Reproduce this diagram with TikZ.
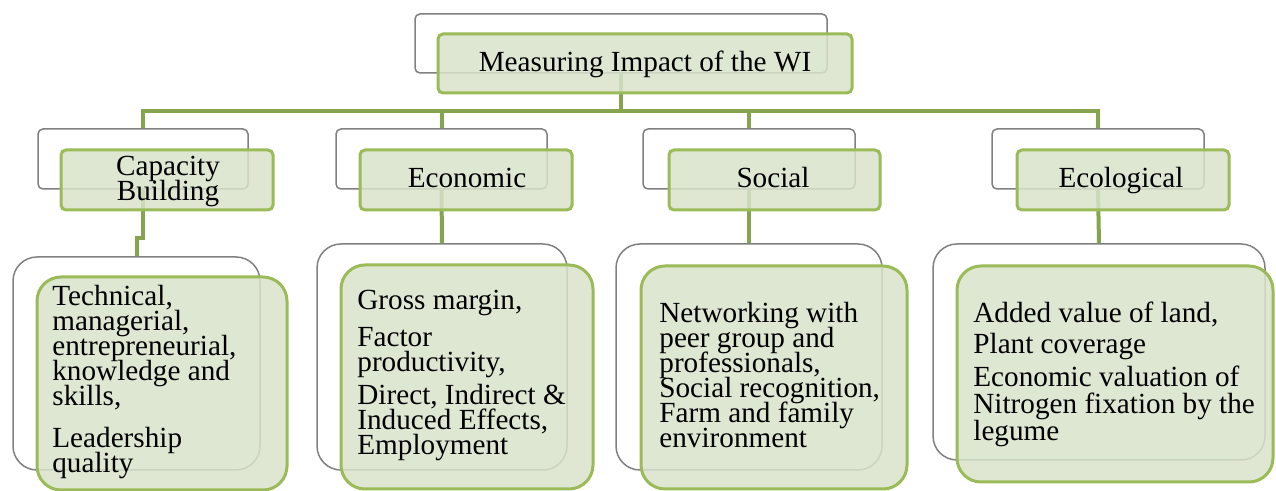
\documentclass[tikz,border=0pt]{standalone}
\usepackage{fontspec}
\setmainfont{Liberation Serif}
\usetikzlibrary{fit}
\definecolor{gborder}{RGB}{155,187,89}
\definecolor{gfill}{RGB}{217,227,203}
\definecolor{conncol}{RGB}{134,163,77}
\definecolor{wborder}{RGB}{128,128,128}
\tikzset{
  wbox/.style={draw=wborder, line width=0.75pt, fill=white, rounded corners=2.5pt, inner sep=0pt},
  wboxbig/.style={wbox, rounded corners=12pt},
  gbox/.style={draw=gborder, line width=1.5pt, fill=gfill, fill opacity=0.85,
    rounded corners=2.5pt, inner sep=0pt},
  gboxbig/.style={gbox, rounded corners=12pt},
  conn/.style={draw=conncol, line width=2pt},
  ctext/.style={anchor=center, inner sep=0pt, align=center,
    font={\fontsize{14.6}{12.5}\selectfont\lineskiplimit=-20pt\relax}},
  dtext/.style={anchor=north west, inner sep=0pt, align=left,
    font={\fontsize{14.6}{12.5}\selectfont\lineskiplimit=-20pt\relax}},
}
\begin{document}
\begin{tikzpicture}[x=0.5pt,y=-0.5pt]
\useasboundingbox (0,0) rectangle (1276,491);

% back (white) boxes
\node[wbox, fit={(415,14) (827,73)}] (tw) {};
\node[wbox, fit={(38,129) (248,189)}] (cw1) {};
\node[wbox, fit={(336,129) (547,189)}] (cw2) {};
\node[wbox, fit={(643,129) (855,189)}] (cw3) {};
\node[wbox, fit={(992,129) (1204,189)}] (cw4) {};
\node[wboxbig, fit={(13,257) (260,470)}] (dw1) {};
\node[wboxbig, fit={(317,244) (567,470)}] (dw2) {};
\node[wboxbig, fit={(616,244) (882,470)}] (dw3) {};
\node[wboxbig, fit={(933,244) (1265,460)}] (dw4) {};

% connectors
\coordinate (bus) at (0,111);
\foreach \i in {1,2,3,4}{
  \draw[conn] (tw.south) -- (tw.south |- bus) -| (cw\i.north);
}
\draw[conn] (cw1.south) -- ++(0,48) -| (dw1.north);
\draw[conn] (cw2.south) -- (dw2.north);
\draw[conn] (cw3.south) -- (dw3.north);
\draw[conn] (cw4.south) -- (dw4.north);

% front (green) boxes
\node[gbox, fit={(438,34) (852,93)}] (tg) {};
\node[gbox, fit={(61,150) (273,210)}] (cg1) {};
\node[gbox, fit={(360,150) (572,210)}] (cg2) {};
\node[gbox, fit={(669,150) (880,210)}] (cg3) {};
\node[gbox, fit={(1017,150) (1229,210)}] (cg4) {};
\node[gboxbig, fit={(37,277) (287,490)}] (dg1) {};
\node[gboxbig, fit={(341,265) (593,489)}] (dg2) {};
\node[gboxbig, fit={(641,266) (907,489)}] (dg3) {};
\node[gboxbig, fit={(957,266) (1273,482)}] (dg4) {};

% box titles
\node[ctext, anchor=base] (l0) at (645,72) {Measuring Impact of the WI};
\node[ctext] (l1) at (168,181) {Capacity\\Building};
\node[ctext, anchor=base] (l2) at (467,188) {Economic};
\node[ctext, anchor=base] (l3) at (773,188) {Social};
\node[ctext, anchor=base] (l4) at (1121,188) {Ecological};

% detail texts
\node[dtext] (t1) at (52,285) {Technical,\\managerial,\\entrepreneurial,\\knowledge and\\skills,\\[8.5pt]Leadership\\quality};
\node[dtext] (t2) at (357,290) {Gross margin,\\[6pt]Factor\\productivity,\\[4pt]Direct, Indirect \&\\Induced Effects,\\Employment};
\node[dtext] (t3) at (659,302) {Networking with\\peer group and\\professionals,\\Social recognition,\\Farm and family\\environment};
\node[dtext] (t4) at (973,302) {Added value of land,\\[3pt]Plant coverage\\[4pt]Economic valuation of\\[1pt]Nitrogen fixation by the\\[1pt]legume};
\end{tikzpicture}
\end{document}
